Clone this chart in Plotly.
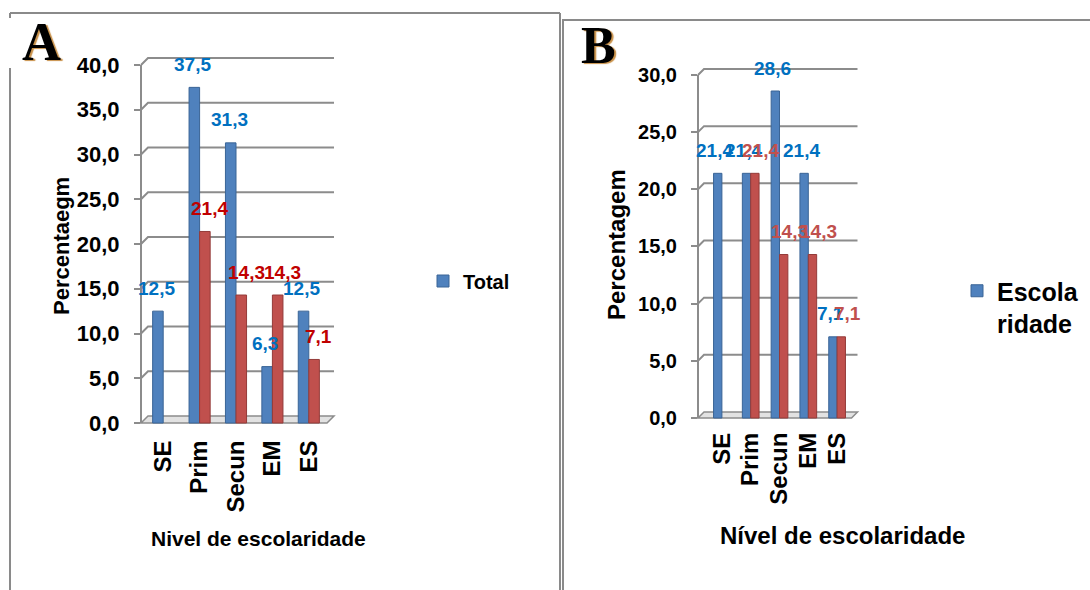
import plotly.graph_objects as go

# ---------------- data ----------------
categories = ["SE", "Prim", "Secun", "EM", "ES"]
a_total = [12.5, 37.5, 31.3, 6.3, 12.5]
a_second = [None, 21.4, 14.3, 14.3, 7.1]
b_first = [21.4, 21.4, 28.6, 21.4, 7.1]
b_second = [None, 21.4, 14.3, 14.3, 7.1]
a_yticks = [0, 5, 10, 15, 20, 25, 30, 35, 40]
b_yticks = [0, 5, 10, 15, 20, 25, 30]

# ---------------- layout helpers ----------------
W, H = 1090, 590
FONT = "Liberation Sans, Arial, sans-serif"
SERIF = "Liberation Serif, Times New Roman, serif"
BLUE, RED = "#4F81BD", "#C0504D"
BLUE_LINE, RED_LINE = "#3A6496", "#943B39"
GRID = "#8C8C8C"


def px(x):
    return x / W


def py(y):
    return (H - y) / H


def fmt(v):
    return f"{v:.1f}".replace(".", ",")


# plot-area geometry (pixels)
A_LEFT, A_FRONT_W = 141, 186
B_LEFT, B_FRONT_W = 698, 153.5
A_D, B_D = 7, 6  # 3-D depth offset
A_SCALE = (423 - 65) / 40.0     # px per unit
B_SCALE = (418 - 75) / 30.0
A_XSCALE, B_XSCALE = 36.4, 28.8
A_YR, B_YR = [-0.3, 41], [-0.25, 30.7]
A_XR, B_XR = [-0.61, 4.75], [-0.83, 4.78]

a_dom_y = [py(423 - (A_YR[0]) * A_SCALE), py(423 - A_YR[1] * A_SCALE)]
b_dom_y = [py(418 - (B_YR[0]) * B_SCALE), py(418 - B_YR[1] * B_SCALE)]
a_dom_x = [px(A_LEFT), px(A_LEFT + (A_XR[1] - A_XR[0]) * A_XSCALE)]
b_dom_x = [px(B_LEFT), px(B_LEFT + (B_XR[1] - B_XR[0]) * B_XSCALE)]

fig = go.Figure()

fig.add_trace(go.Bar(x=categories, y=a_total, name="Total", marker=dict(color=BLUE, line=dict(color=BLUE_LINE, width=1)),
                     xaxis="x", yaxis="y", legend="legend"))
fig.add_trace(go.Bar(x=categories, y=a_second, name="Série 2", showlegend=False,
                     marker=dict(color=RED, line=dict(color=RED_LINE, width=1)), xaxis="x", yaxis="y"))
fig.add_trace(go.Bar(x=categories, y=b_first, name="Escola<br>ridade", marker=dict(color=BLUE, line=dict(color=BLUE_LINE, width=1)),
                     xaxis="x2", yaxis="y2", legend="legend2"))
fig.add_trace(go.Bar(x=categories, y=b_second, name="Série 2", showlegend=False,
                     marker=dict(color=RED, line=dict(color=RED_LINE, width=1)), xaxis="x2", yaxis="y2"))

shapes = []


def wall(xref, yref, width_px, d, ticks):
    # front vertical axis line
    shapes.append(dict(type="line", xref=f"{xref} domain", yref=yref, x0=0, x1=0, y0=ticks[0], y1=ticks[-1],
                       line=dict(color=GRID, width=2), layer="below"))
    for v in ticks:
        if v == ticks[0]:
            path = f"M0,0 L{d},{d} L{width_px + d},{d} L{width_px},0 Z"
            shapes.append(dict(type="path", xref=f"{xref} domain", yref=yref, xsizemode="pixel", ysizemode="pixel",
                               xanchor=0, yanchor=v, path=path,
                               line=dict(color=GRID, width=1.5), fillcolor="#E2E2E2", layer="below"))
        else:
            path = f"M0,0 L{d},{d} L{width_px + d},{d}"
            shapes.append(dict(type="path", xref=f"{xref} domain", yref=yref, xsizemode="pixel", ysizemode="pixel",
                               xanchor=0, yanchor=v, path=path,
                               line=dict(color=GRID, width=2), layer="below"))


wall("x", "y", A_FRONT_W, A_D, a_yticks)
wall("x2", "y2", B_FRONT_W, B_D, b_yticks)

FRAME = "#8A8A8A"
shapes += [
    # panel A frame
    dict(type="line", xref="paper", yref="paper", x0=px(10), x1=px(560), y0=py(13), y1=py(13), line=dict(color=FRAME, width=2)),
    dict(type="line", xref="paper", yref="paper", x0=px(10), x1=px(10), y0=py(13), y1=py(18), line=dict(color=FRAME, width=2)),
    dict(type="line", xref="paper", yref="paper", x0=px(10), x1=px(10), y0=py(68), y1=py(590), line=dict(color=FRAME, width=2)),
    dict(type="line", xref="paper", yref="paper", x0=px(560), x1=px(560), y0=py(13), y1=py(590), line=dict(color=FRAME, width=2)),
    # panel B frame
    dict(type="line", xref="paper", yref="paper", x0=px(562), x1=px(1090), y0=py(20), y1=py(20), line=dict(color=FRAME, width=2)),
    dict(type="line", xref="paper", yref="paper", x0=px(563), x1=px(563), y0=py(20), y1=py(590), line=dict(color=FRAME, width=2)),
]

annotations = []


def labels(xref, yref, vals, color, xshift):
    for c, v in zip(categories, vals):
        if v is None:
            continue
        annotations.append(dict(x=c, y=v, xref=xref, yref=yref, text=fmt(v), showarrow=False,
                                xanchor="center", yanchor="middle", xshift=xshift, yshift=23,
                                font=dict(family=FONT, size=19, color=color, weight="bold")))


labels("x", "y", a_total, "#0070C0", -7)
labels("x", "y", a_second, "#C00000", 10)
labels("x2", "y2", b_first, "#0070C0", -7)
labels("x2", "y2", b_second, "#C0504D", 10)


def ptext(x, y, text, size, angle=0, family=FONT, shadow=None):
    f = dict(family=family, size=size, color="black", weight="bold")
    if shadow:
        f["shadow"] = shadow
    return dict(x=px(x), y=py(y), xref="paper", yref="paper", text=text, textangle=angle, showarrow=False,
                xanchor="center", yanchor="middle", font=f)


annotations += [
    ptext(61, 246, "Percentaegm", 22, -90),
    ptext(258, 538, "Nivel de escolaridade", 21),
    ptext(616, 245, "Percentagem", 24, -90),
    ptext(842, 535, "Nível de escolaridade", 24),
    ptext(41, 42, "A", 54, 0, SERIF, "2px 1px 1px #C89048"),
    ptext(599, 45, "B", 52, 0, SERIF, "2px 1px 1px #C89048"),
]

tickfont_a = dict(family=FONT, size=22, color="black", weight="bold")
tickfont_b = dict(family=FONT, size=20, color="black", weight="bold")
xtickfont = dict(family=FONT, size=24, color="black", weight="bold")

fig.update_layout(
    width=W, height=H, autosize=False,
    margin=dict(l=0, r=0, t=0, b=0, pad=0),
    paper_bgcolor="white", plot_bgcolor="rgba(0,0,0,0)",
    separators=",.",
    barmode="group", bargap=0.42, bargroupgap=0,
    font=dict(family=FONT, color="black"),
    xaxis=dict(domain=a_dom_x, anchor="y", range=A_XR, type="category",
               tickmode="array", tickvals=categories, ticktext=categories,
               showgrid=False, zeroline=False, showline=False,
               ticks="", tickangle=-90, tickfont=xtickfont, ticklabelstandoff=9, automargin=False),
    yaxis=dict(domain=a_dom_y, anchor="x", range=A_YR, tickvals=a_yticks, tickformat=".1f",
               showgrid=False, zeroline=False, showline=False,
               ticks="outside", ticklen=6, tickcolor=GRID, tickwidth=1.5,
               tickfont=tickfont_a, ticklabelstandoff=10, automargin=False),
    xaxis2=dict(domain=b_dom_x, anchor="y2", range=B_XR, type="category",
                tickmode="array", tickvals=categories, ticktext=categories,
                showgrid=False, zeroline=False, showline=False,
                ticks="", tickangle=-90, tickfont=xtickfont, ticklabelstandoff=6, automargin=False),
    yaxis2=dict(domain=b_dom_y, anchor="x2", range=B_YR, tickvals=b_yticks, tickformat=".1f",
                showgrid=False, zeroline=False, showline=False,
                ticks="outside", ticklen=6, tickcolor=GRID, tickwidth=1.5,
                tickfont=tickfont_b, ticklabelstandoff=10, automargin=False),
    legend=dict(x=px(423), y=py(281), xanchor="left", yanchor="middle", bgcolor="rgba(0,0,0,0)",
                font=dict(family=FONT, size=20, color="black", weight="bold")),
    legend2=dict(x=px(957), y=py(268), xanchor="left", yanchor="top", valign="top", bgcolor="rgba(0,0,0,0)",
                 font=dict(family=FONT, size=25, color="black", weight="bold")),
    shapes=shapes,
    annotations=annotations,
)

fig.write_html("out.html")
